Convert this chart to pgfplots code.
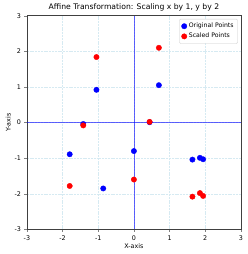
\documentclass[border=0pt]{standalone}
\usepackage{fontspec}
\setmainfont{DejaVu Sans}
\usepackage{pgfplots}
\pgfplotsset{compat=1.18}
\definecolor{gridc}{RGB}{214,234,242}
\begin{document}
\begin{tikzpicture}
\begin{axis}[
  scale only axis,
  width=215pt, height=214.6pt,
  xmin=-3, xmax=3, ymin=-3, ymax=3,
  xtick={-3,...,3}, ytick={-3,...,3},
  /pgf/number format/assume math mode=true,
  tick label style={font=\fontsize{6.4}{7}\selectfont},
  tick align=outside, tick pos=left,
  major tick length=2.5pt,
  axis line style={draw=black!75, line width=0.6pt},
  grid=major,
  major grid style={draw=gridc, line width=0.5pt, dash pattern=on 2pt off 0.8pt},
  title={Affine Transformation: Scaling x by 1, y by 2},
  title style={font=\fontsize{7.7}{9}\selectfont, yshift=-4.5pt},
  xlabel={X-axis}, ylabel={Y-axis},
  label style={font=\fontsize{6.4}{7}\selectfont},
  xlabel style={yshift=3.5pt},
  ylabel style={yshift=-3pt},
  legend style={at={(0.985,0.985)}, anchor=north east, font=\fontsize{6.2}{7}\selectfont,
    draw=black!20, rounded corners=1pt, inner sep=2pt, row sep=0pt},
  legend cell align=left,
  clip=true,
]
\addplot[draw=blue, line width=0.6pt, opacity=0.6, forget plot] coordinates {(-3,0) (3,0)};
\addplot[draw=blue, line width=0.6pt, opacity=0.6, forget plot] coordinates {(0,-3) (0,3)};
\addplot[only marks, mark=*, mark size=2.7pt, color=blue] coordinates {
(-1.42,-0.04) (-1.05,0.92) (0.70,1.05) (0.44,0.01) (-1.80,-0.89)
(-0.86,-1.85) (0.00,-0.80) (1.64,-1.04) (1.85,-0.99) (1.94,-1.03)};
\addlegendentry{Original Points}
\addplot[only marks, mark=*, mark size=2.7pt, color=red] coordinates {
(-1.42,-0.08) (-1.05,1.84) (0.70,2.10) (0.44,0.02) (-1.80,-1.78)
(-0.86,-3.70) (0.00,-1.60) (1.64,-2.08) (1.85,-1.98) (1.94,-2.06)};
\addlegendentry{Scaled Points}
\coordinate (sw) at (rel axis cs:0,0);
\coordinate (ne) at (rel axis cs:1,1);
\end{axis}
\path ([shift={(-27pt,-24.7pt)}]sw) rectangle ([shift={(7pt,14.7pt)}]ne);
\end{tikzpicture}
\end{document}
